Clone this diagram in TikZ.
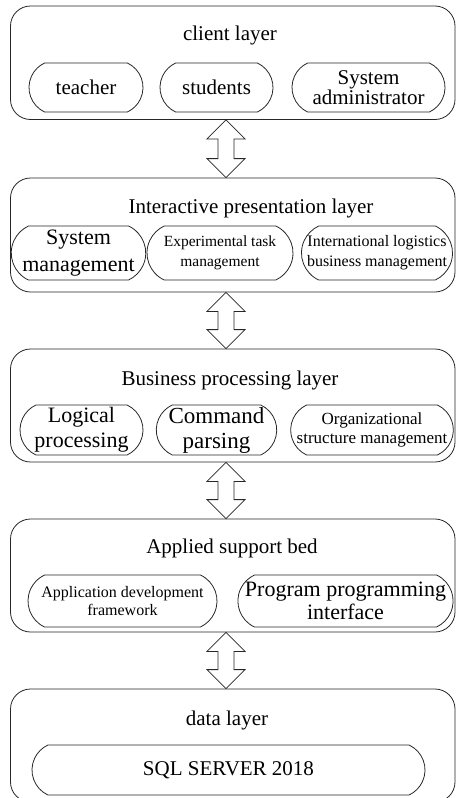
\documentclass[tikz,border=0pt]{standalone}
\usepackage{fontspec}
\setmainfont{Liberation Serif}
\usetikzlibrary{shapes.misc,calc}
\tikzset{
  layerbox/.style={draw=black!85, rectangle, rounded corners=20pt, minimum width=444.5pt, inner sep=0pt},
  pill/.style={draw=black!85, rounded rectangle, rounded rectangle arc length=130, inner sep=0pt, align=center},
  titletext/.style={inner sep=0pt, font=\fontsize{21}{24}\selectfont},
  arrowshape/.style={draw=black!85, line join=miter},
}
\newcommand{\fs}[2]{\fontsize{#1}{#2}\selectfont}
\newcommand{\dblarrow}[2]{%
  \draw[arrowshape] (#1.south -| axis) coordinate (T) -- ++(19,19) -- ++(-11,0)
    -- ($(#2.north -| axis)+(8,-19)$) -- ++(11,0) -- (#2.north -| axis)
    -- ++(-19,-19) -- ++(11,0) -- ($(T)+(-8,19)$) -- ++(-11,0) -- cycle;}
\begin{document}
\begin{tikzpicture}[x=1pt,y=-1pt, line width=0.8pt]
\useasboundingbox (0,0) rectangle (456,798);
\coordinate (axis) at (226,0);
% layers
\node[layerbox, minimum height=113.5pt] (L1) at (232.75,62.75) {};
\node[layerbox, minimum height=114pt] (L2) at (232.75,235) {};
\node[layerbox, minimum height=113pt] (L3) at (232.75,405.5) {};
\node[layerbox, minimum height=113pt] (L4) at (232.75,575.5) {};
\node[layerbox, minimum height=113pt] (L5) at (232.75,745.5) {};
% titles
\node[titletext] (T1) at (230,35) {client layer};
\node[titletext] (T2) at (251,208) {Interactive presentation layer};
\node[titletext] (T3) at (230,380) {Business processing layer};
\node[titletext] (T4) at (232,548) {Applied support bed};
\node[titletext] (T5) at (227,720) {data layer};
% layer 1
\node[pill, minimum width=114pt, minimum height=49pt, font=\fs{21}{20}] (p11) at (86,87.5) {teacher};
\node[pill, minimum width=113pt, minimum height=49pt, font=\fs{21}{20}] (p12) at (216.5,87.5) {students};
\node[pill, minimum width=153pt, minimum height=49pt, font=\fs{21}{20}] (p13) at (368.5,87.5) {System\\administrator};
% layer 2
\node[pill, minimum width=117pt, minimum height=54pt, font=\fs{22}{27}] (p21) at (78.5,253) {System\\management};
\node[pill, minimum width=146pt, minimum height=54pt, font=\fs{15.5}{20}] (p22) at (220,253) {Experimental task\\management};
\node[pill, minimum width=150pt, minimum height=54pt, font=\fs{16}{20}] (p23) at (377,253) {International logistics\\business management};
% layer 3
\node[pill, minimum width=123pt, minimum height=50pt, font=\fs{22}{25}] (p31) at (81.5,430) {Logical\\processing};
\node[pill, minimum width=113pt, minimum height=50pt, font=\fs{23}{25}] (p32) at (216.5,430) {Command\\parsing};
\node[pill, minimum width=160pt, minimum height=50pt, font=\fs{17}{19}] (p33) at (372,430) {Organizational\\structure management};
% layer 4
\node[pill, minimum width=189pt, minimum height=52pt, font=\fs{16}{18.5}] (p41) at (122.5,601) {Application development\\framework};
\node[pill, minimum width=215pt, minimum height=52pt, font=\fs{22}{23}] (p42) at (345.5,601) {Program programming\\interface};
% layer 5
\node[pill, minimum width=393pt, minimum height=50pt, font=\fs{21}{24}] (p51) at (228.5,770) {SQL SERVER 2018};
% arrows
\dblarrow{L1}{L2}
\dblarrow{L2}{L3}
\dblarrow{L3}{L4}
\dblarrow{L4}{L5}
\end{tikzpicture}
\end{document}
